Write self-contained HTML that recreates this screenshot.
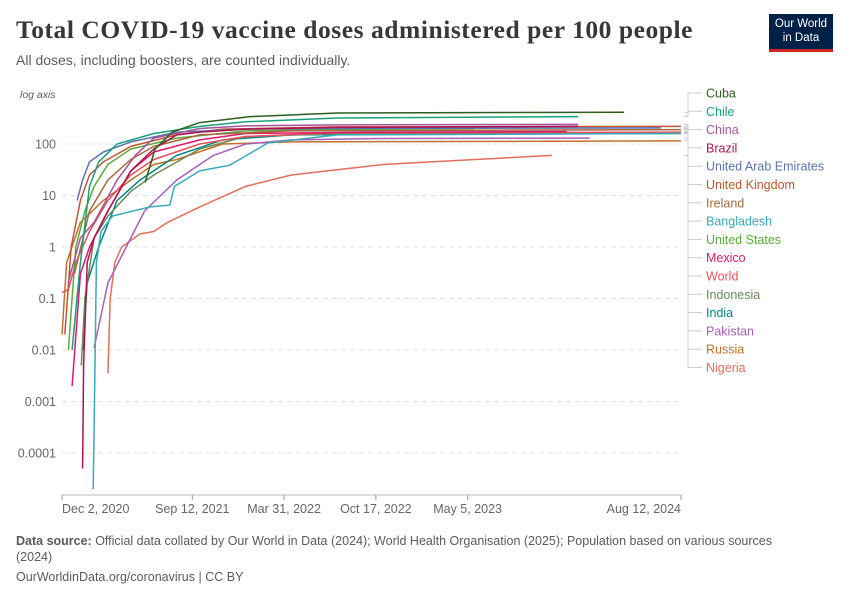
<!DOCTYPE html>
<html><head><meta charset="utf-8">
<style>
body{margin:0;background:#fff;font-family:"Liberation Sans",sans-serif;}
#wrap{position:relative;width:850px;height:600px;overflow:hidden;}
.t{position:absolute;white-space:nowrap;}
</style></head>
<body>
<div id="wrap">
<div class="t" style="left:16px;top:15px;font-family:'Liberation Serif',serif;font-size:25.5px;letter-spacing:0.55px;font-weight:bold;color:#373737;">Total COVID-19 vaccine doses administered per 100 people</div>
<div class="t" style="left:16px;top:52px;font-size:14px;color:#5b5b5b;">All doses, including boosters, are counted individually.</div>
<div style="position:absolute;left:769px;top:14px;width:64px;height:38px;background:#002147;border-bottom:3px solid #ce261e;color:#fff;font-size:11.5px;line-height:14px;text-align:center;padding-top:3px;box-sizing:border-box;">Our World<br>in Data</div>
<svg id="chart" width="850" height="600" style="position:absolute;left:0;top:0"></svg>
<div class="t" style="left:16px;top:533px;font-size:12.5px;color:#5b5b5b;line-height:16px;white-space:normal;width:780px;"><b>Data source:</b> Official data collated by Our World in Data (2024); World Health Organisation (2025); Population based on various sources (2024)</div>
<div class="t" style="left:16px;top:570px;font-size:12.5px;color:#5b5b5b;">OurWorldinData.org/coronavirus | CC BY</div>
</div>
<script>
const yTicks=[100,10,1,0.1,0.01,0.001,0.0001];
const yTickLabels=["100","10","1","0.1","0.01","0.001","0.0001"];
const xTickDays=[0,284,484,684,884,1349];
const xTickLabels=["Dec 2, 2020","Sep 12, 2021","Mar 31, 2022","Oct 17, 2022","May 5, 2023","Aug 12, 2024"];
const seriesNames=["Cuba","Chile","China","Brazil","United Arab Emirates","United Kingdom","Ireland","Bangladesh","United States","Mexico","World","Indonesia","India","Pakistan","Russia","Nigeria"];
const seriesColors=["#2c5f1e","#18a17a","#a2559c","#b0124f","#5b72ad","#c15533","#a5683d","#38aaba","#58ac3c","#e0186c","#e84f5e","#668c59","#00847e","#a65fb8","#c3702a","#e56e5a"];
const cubaDays=[181,203,240,300,410,600,1225], cubaVals=[18,80,170,260,340,400,415];
const chileDays=[22,40,60,80,120,200,300,400,600,1125], chileVals=[0.01,0.5,15,45,100,160,220,270,320,340];
const chinaDays=[13,40,70,120,160,200,300,400,600,1125], chinaVals=[0.2,1.5,3,20,60,130,200,225,235,240];
const brazilDays=[45,47,55,70,100,150,200,250,300,400,600,1125], brazilVals=[0.00005,0.005,0.5,1.5,5,30,80,150,170,195,210,220];
const uaeDays=[33,45,60,90,150,250,400,600,1305], uaeVals=[8,20,45,70,110,170,195,200,205];
const ukDays=[6,20,40,60,90,150,250,350,600,1349], ukVals=[0.02,1,8,25,45,90,150,195,215,220];
const irelandDays=[27,60,100,150,200,300,500,1349], irelandVals=[0.3,5,20,50,90,150,180,190];
const bangladeshDays=[68,70,75,85,110,192,235,245,300,366,449,600,1349], bangladeshVals=[0.00002,0.0003,0.5,2,4,6,6.5,15,30,39,105,150,160];
const usDays=[14,30,50,70,100,150,250,400,600,900], usVals=[0.01,1,5,15,40,80,130,180,190,200];
const mexicoDays=[22,40,60,100,150,200,300,400,700,1100], mexicoVals=[0.002,0.3,1,5,30,70,120,160,170,175];
const worldDays=[0,14,30,60,100,150,200,300,400,600,1349], worldVals=[0.13,0.15,0.5,2,8,25,50,100,140,165,170];
const indonesiaDays=[42,50,70,100,150,200,300,400,600,1300], indonesiaVals=[0.005,0.1,1.5,4,12,25,80,140,160,165];
const indiaDays=[45,55,80,120,170,250,350,500,900,1349], indiaVals=[0.01,0.2,1,8,20,60,120,150,158,160];
const pakistanDays=[70,100,140,180,250,330,400,500,700,1150], pakistanVals=[0.011,0.2,1,5,20,60,100,120,128,130];
const russiaDays=[0,10,40,90,150,200,250,350,500,1349], russiaVals=[0.02,0.5,3,8,20,40,50,100,110,115];
const nigeriaDays=[100,105,115,130,170,200,230,300,400,500,700,900,1068], nigeriaVals=[0.0035,0.1,0.5,1,1.8,2,3,6,15,25,40,50,60];
const allDays=[cubaDays,chileDays,chinaDays,brazilDays,uaeDays,ukDays,irelandDays,bangladeshDays,usDays,mexicoDays,worldDays,indonesiaDays,indiaDays,pakistanDays,russiaDays,nigeriaDays];
const allVals=[cubaVals,chileVals,chinaVals,brazilVals,uaeVals,ukVals,irelandVals,bangladeshVals,usVals,mexicoVals,worldVals,indonesiaVals,indiaVals,pakistanVals,russiaVals,nigeriaVals];

const X0=62,X1=681,DMAX=1349;
function xS(d){return X0+d*(X1-X0)/DMAX;}
function yS(v){return 144-51.5*(Math.log10(v)-2);}
const NS="http://www.w3.org/2000/svg";
const svg=document.getElementById('chart');
function mk(tag,attrs){const e=document.createElementNS(NS,tag);for(const k in attrs)e.setAttribute(k,attrs[k]);svg.appendChild(e);return e;}

let t=mk('text',{x:20,y:98,'font-size':10.5,'font-style':'italic',fill:'#5b5b5b'});


t.textContent='log axis';

yTicks.forEach((v,i)=>{
  const g=mk('line',{x1:X0,x2:X1,y1:yS(v),y2:yS(v),stroke:'#e3e3e3','stroke-dasharray':'5,4'});
  
  
  const l=mk('text',{x:56,y:yS(v)+4.5,'text-anchor':'end','font-size':12.5,fill:'#666'});
  
  
  l.textContent=yTickLabels[i];
});
const ax=mk('line',{x1:X0,x2:X1,y1:495,y2:495,stroke:'#bbb'});


xTickDays.forEach((d,i)=>{
  const tk=mk('line',{x1:xS(d),x2:xS(d),y1:495,y2:500,stroke:'#999'});
  
  
  const anchor=i===0?'start':(i===xTickDays.length-1?'end':'middle');
  const l=mk('text',{x:xS(d),y:513,'text-anchor':anchor,'font-size':12.5,fill:'#666'});
  
  
  l.textContent=xTickLabels[i];
});

const labelY0=93, labelStep=18.3;
for(let s=seriesNames.length-1;s>=0;s--){
  const ds=allDays[s], vs=allVals[s];
  const pts=ds.map((d,i)=>xS(d).toFixed(1)+','+yS(vs[i]).toFixed(1)).join(' ');
  const p=mk('polyline',{points:pts,fill:'none',stroke:seriesColors[s],'stroke-width':1.5,'stroke-linejoin':'round'});
  
  
}
seriesNames.forEach((n,s)=>{
  const ly=labelY0+s*labelStep;
  const vs=allVals[s];
  const ey=yS(vs[vs.length-1]);
  const c=mk('path',{d:`M684,${ey.toFixed(1)} H688 V${ly.toFixed(1)} H702`,fill:'none',stroke:'#ccc','stroke-width':1});
  
  
  const l=mk('text',{x:706,y:ly+4.5,'font-size':12.5,fill:seriesColors[s]});
  
  
  l.textContent=n;
});
</script>
</body></html>
